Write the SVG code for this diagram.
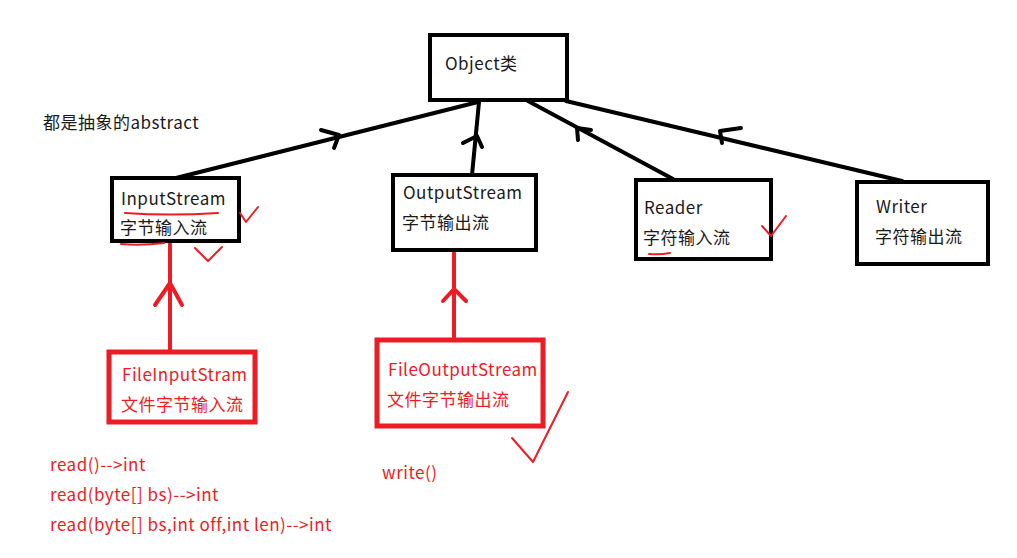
<svg xmlns="http://www.w3.org/2000/svg" width="1017" height="558" viewBox="0 0 1017 558">
<style>
text{font-family:"Noto Sans CJK SC","Noto Sans",sans-serif;font-size:17px;letter-spacing:0.5px;fill:#1a1a1a}
.r{fill:#ed1c24}
.bb{fill:#fff;stroke:#000;stroke-width:4}
.rb{fill:#fff;stroke:#ed1c24;stroke-width:5}
.bl{stroke:#000;stroke-width:4;fill:none;stroke-linecap:round;stroke-linejoin:round}
.rl{stroke:#ed1c24;stroke-width:4;fill:none;stroke-linecap:round;stroke-linejoin:round}
.rt{stroke:#ed1c24;stroke-width:2;fill:none;stroke-linecap:round;stroke-linejoin:round}
</style>
<rect width="1017" height="558" fill="#fff"/>
<g id="connectors">
<line class="bl" x1="176" y1="178" x2="478" y2="102"/>
<polyline class="bl" points="321,130 339,135 334,148" stroke-width="3"/>
<line class="bl" x1="472" y1="175" x2="479" y2="102"/>
<polyline class="bl" points="463,143 477,136 482,147" stroke-width="3"/>
<line class="bl" x1="673" y1="179" x2="528" y2="101"/>
<polyline class="bl" points="578,140 577,128 591,130" stroke-width="3"/>
<line class="bl" x1="902" y1="181" x2="566" y2="101"/>
<polyline class="bl" points="741,128 720,131 722,143" stroke-width="3"/>
<line class="rl" x1="170" y1="350" x2="170" y2="244"/>
<polyline class="rl" points="155,305 170,283 182,305" stroke-width="3"/>
<line class="rl" x1="454" y1="340" x2="454" y2="253"/>
<polyline class="rl" points="443,301 454,289 466,301" stroke-width="3"/>
</g>
<g id="object"><rect class="bb" x="430" y="35" width="137" height="65"/><text x="445" y="70">Object类</text></g>
<g id="inputstream"><rect class="bb" x="112" y="178" width="127" height="63"/><text x="121" y="205">InputStream</text><text x="120" y="234">字节输入流</text></g>
<g id="outputstream"><rect class="bb" x="393" y="175" width="143" height="75"/><text x="403" y="199">OutputStream</text><text x="402" y="229">字节输出流</text></g>
<g id="reader"><rect class="bb" x="636" y="180" width="135" height="79"/><text x="644" y="214">Reader</text><text x="643" y="244">字符输入流</text></g>
<g id="writer"><rect class="bb" x="857" y="182" width="131" height="82"/><text x="876" y="213">Writer</text><text x="875" y="243">字符输出流</text></g>
<g id="fileinputstram"><rect class="rb" x="109" y="352" width="146" height="70"/><text class="r" x="122" y="381">FileInputStram</text><text class="r" x="121" y="411">文件字节输入流</text></g>
<g id="fileoutputstream"><rect class="rb" x="377" y="340" width="166" height="86"/><text class="r" x="388" y="376">FileOutputStream</text><text class="r" x="387" y="406">文件字节输出流</text></g>
<g id="notes">
<text x="43" y="129">都是抽象的abstract</text>
<text class="r" x="50" y="471">read()--&gt;int</text>
<text class="r" x="50" y="501">read(byte[] bs)--&gt;int</text>
<text class="r" x="50" y="531">read(byte[] bs,int off,int len)--&gt;int</text>
<text class="r" x="382" y="479">write()</text>
</g>
<g id="marks">
<path class="rt" d="M125,213 Q170,216 218,213"/>
<path class="rt" d="M121,244 Q140,246 164,243"/>
<path class="rt" d="M649,254 Q660,255 670,253"/>
<polyline class="rt" points="240,213 246,222 258,207" stroke-width="2.5"/>
<polyline class="rt" points="195,248 208,261 222,247" stroke-width="1"/>
<polyline class="rt" points="762,226 771,236 786,216" stroke-width="2.5"/>
<polyline class="rt" points="512,438 533,462 568,392" stroke-width="2.5"/>
</g>
</svg>
